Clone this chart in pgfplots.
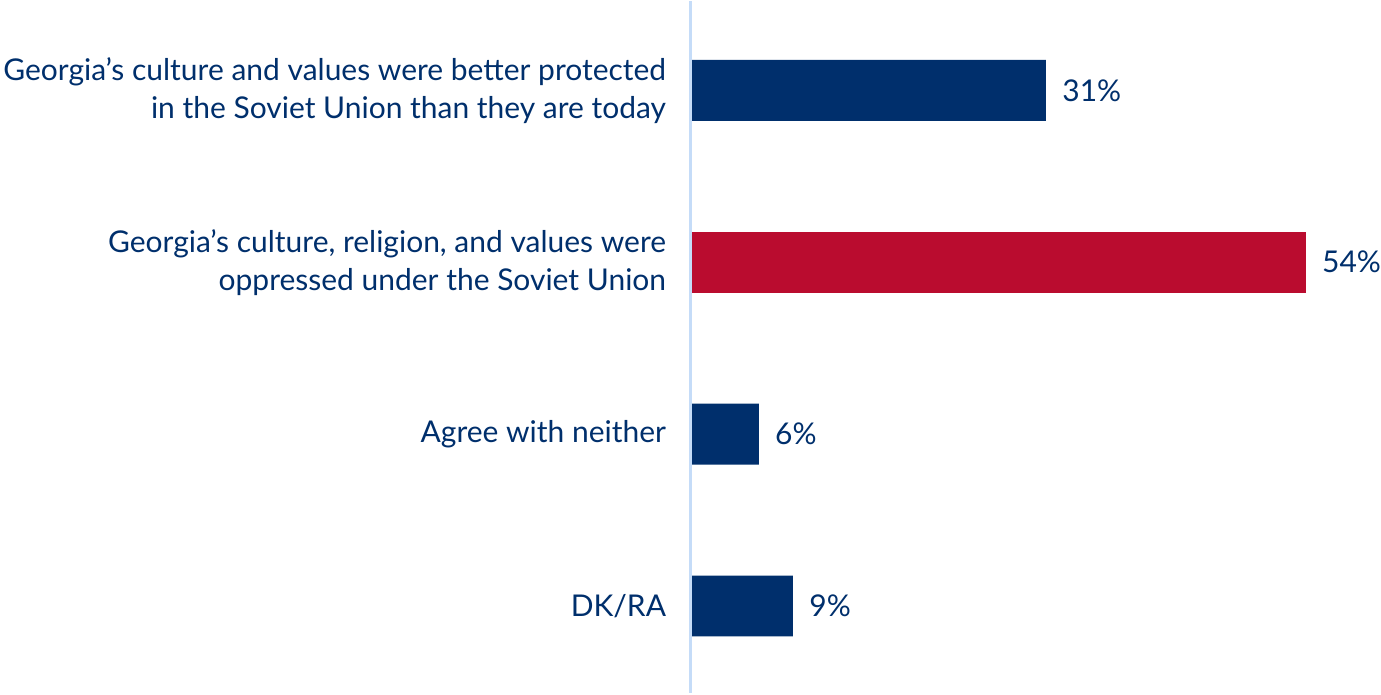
\documentclass[border=0pt]{standalone}
\usepackage{pgfplots}
\pgfplotsset{compat=1.18}
\usepackage{fontspec}
\setmainfont{Lato}
\definecolor{navy}{HTML}{002F6C}
\definecolor{bred}{HTML}{BA0C2F}
\definecolor{axblue}{HTML}{C5DCF8}
\begin{document}
\begin{tikzpicture}
\begin{axis}[
  scale only axis,
  width=345pt, height=346pt,
  xmin=0, xmax=60.5,
  ymin=-0.517, ymax=3.506,
  y dir=reverse,
  xbar, bar width=30.5pt, bar shift=0pt,
  axis line style={draw=none},
  xtick=\empty,
  ytick={0,1,2,3},
  yticklabels={{Georgia’s culture and values were better protected\\in the Soviet Union than they are today},{Georgia’s culture, religion, and values were\\oppressed under the Soviet Union},{Agree with neither},{DK/RA}},
  yticklabel style={align=right, text=navy, font=\fontsize{15}{19}\selectfont, inner sep=0pt, xshift=-12pt},
  major tick length=0pt,
  /pgf/number format/assume math mode=true,
  nodes near coords={\pgfmathprintnumber{\pgfplotspointmeta}\%},
  nodes near coords style={anchor=west, text=navy, font=\fontsize{15}{19}\selectfont, inner sep=0pt, xshift=8pt},
  point meta=explicit,
  clip=false,
]
\addplot[fill=navy, draw=none] coordinates {(31.2,0) [31] (6,2) [6] (9,3) [9]};
\addplot[fill=bred, draw=none] coordinates {(54,1) [54]};
\draw[axblue, line width=1.5pt] (rel axis cs:0,0) -- (rel axis cs:0,1);
\path (rel axis cs:-1.0014,0) rectangle (rel axis cs:1,1);
\end{axis}
\end{tikzpicture}
\end{document}
